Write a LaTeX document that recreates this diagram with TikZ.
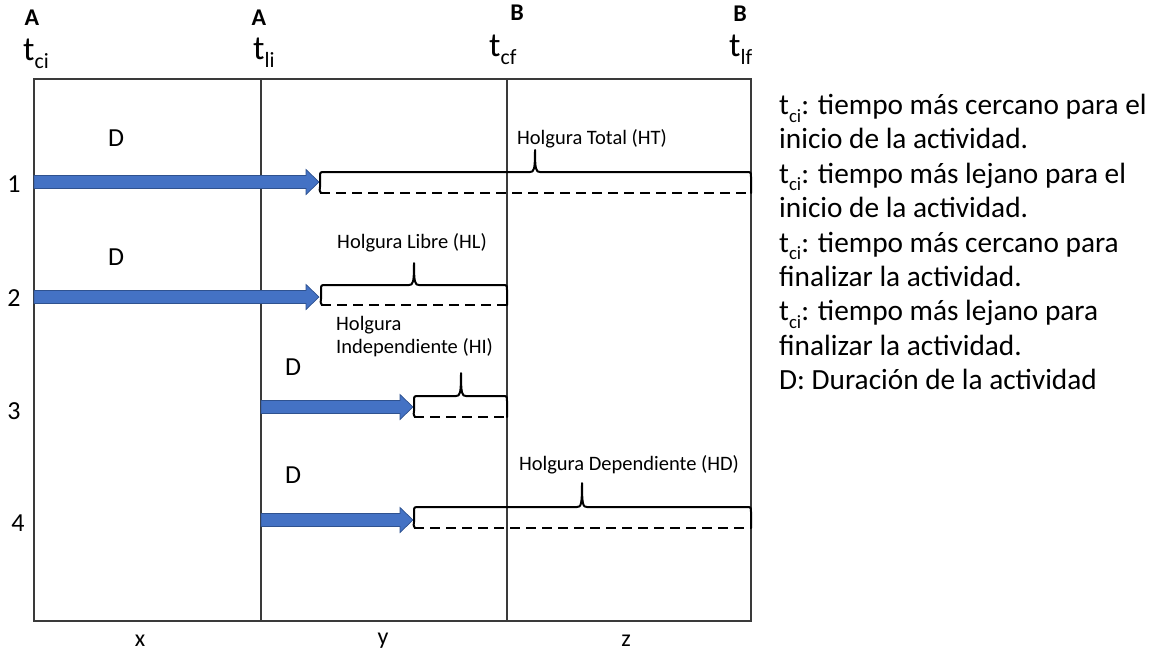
\documentclass[tikz,border=0pt]{standalone}
\usepackage{fontspec}
\usepackage{graphicx}
\setmainfont{Carlito}
\definecolor{arrowfill}{HTML}{4472C4}
\definecolor{arrowedge}{HTML}{2F528F}
\definecolor{gridline}{HTML}{3A3A3A}
\newcommand{\tsb}[1]{t\raisebox{-0.26em}{\scalebox{0.64}{#1}}}
\newcommand{\blockarrow}[4]{% name, x0, x1, y
  \coordinate (#1s) at (#2,#4);
  \coordinate (#1t) at (#3,#4);
  \filldraw[barrow] (#2,#4-6.5) -- (#3-13,#4-6.5) -- (#3-13,#4-12.5) -- (#3,#4)
    -- (#3-13,#4+12.5) -- (#3-13,#4+6.5) -- (#2,#4+6.5) -- cycle;}
\newcommand{\holgbrace}[6]{% x1, x2, xm, top, bot, tip
  \draw[bracestyle] (#1+1,#5) .. controls (#1-0.5,#5-2) .. (#1,#5-6) -- (#1,#4+5)
    .. controls (#1,#4) .. (#1+5,#4) -- (#3-5,#4)
    .. controls (#3-1,#4) and (#3,#4-2) .. (#3,#6)
    .. controls (#3,#4-2) and (#3+1,#4) .. (#3+5,#4) -- (#2-5,#4)
    .. controls (#2,#4) .. (#2,#4+5) -- (#2,#5);
  \draw[dashstyle] (#1,#5) -- (#2,#5);}
\begin{document}
\begin{tikzpicture}[x=1pt,y=-1pt,
  barrow/.style={fill=arrowfill,draw=arrowedge,line width=0.7pt},
  bracestyle/.style={line width=2pt,line join=round,line cap=round},
  dashstyle/.style={line width=2pt,dash pattern=on 10pt off 6pt},
  gridl/.style={draw=gridline,line width=1.1pt},
  hdr/.style={font=\fontsize{24}{27}\selectfont\bfseries,inner sep=0pt},
  tlab/.style={font=\fontsize{34}{38}\selectfont,inner sep=0pt,anchor=base west},
  rowlab/.style={font=\fontsize{26}{30}\selectfont,inner sep=0pt},
  dlab/.style={font=\fontsize{26}{30}\selectfont,inner sep=0pt},
  axlab/.style={font=\fontsize{24}{28}\selectfont,inner sep=0pt},
  hlab/.style={font=\fontsize{20.5}{24}\selectfont,inner sep=0pt},
  leg/.style={font=\fontsize{29.3}{34.4}\selectfont,inner sep=0pt,align=left,anchor=north west}]
\useasboundingbox (0,0) rectangle (1156,657);
% frame
\draw[gridl] (34,79) rectangle (751,621);
\draw[gridl] (261,79) -- (261,621);
\draw[gridl] (507,79) -- (507,621);
% headers
\node[hdr] (hA1) at (32,18) {A};
\node[tlab] (t1) at (23,60) {\tsb{ci}};
\node[hdr] (hA2) at (259,18) {A};
\node[tlab] (t2) at (253,59) {\tsb{li}};
\node[hdr] (hB1) at (517,13) {B};
\node[tlab] (t3) at (489,56) {\tsb{cf}};
\node[hdr] (hB2) at (740,14) {B};
\node[tlab] (t4) at (729,56) {\tsb{lf}};
% row labels
\node[rowlab] (r1) at (14,184) {1};
\node[rowlab] (r2) at (14,298) {2};
\node[rowlab] (r3) at (14,411) {3};
\node[rowlab] (r4) at (18,523) {4};
% D labels
\node[dlab] (d1) at (116,138) {D};
\node[dlab] (d2) at (116,257) {D};
\node[dlab] (d3) at (293,367) {D};
\node[dlab] (d4) at (293,475) {D};
% arrows
\blockarrow{a1}{34}{319}{182}
\blockarrow{a2}{34}{319}{297}
\blockarrow{a3}{261}{413}{407}
\blockarrow{a4}{261}{413}{520}
% braces
\holgbrace{320}{751}{535}{172}{193}{150}
\holgbrace{321}{507}{414}{285}{305}{263}
\holgbrace{414}{507}{461}{396}{417}{373}
\holgbrace{414}{751}{582}{507}{528}{483}
% brace labels
\node[hlab] (h1) at (592,139) {Holgura Total (HT)};
\node[hlab] (h2) at (412,243) {Holgura Libre (HL)};
\node[hlab,align=left,anchor=west] (h3) at (336,337) {Holgura\\[-1pt]Independiente (HI)};
\node[hlab] (h4) at (629,465) {Holgura Dependiente (HD)};
% bottom labels
\node[axlab] (bx) at (140,641) {x};
\node[axlab] (by) at (383,641) {y};
\node[axlab] (bz) at (626,641) {z};
% legend
\node[leg] (legend) at (779,94) {\tsb{ci}: tiempo más cercano para el\\
inicio de la actividad.\\
\tsb{ci}: tiempo más lejano para el\\
inicio de la actividad.\\
\tsb{ci}: tiempo más cercano para\\
finalizar la actividad.\\
\tsb{ci}: tiempo más lejano para\\
finalizar la actividad.\\
D: Duración de la actividad};
\end{tikzpicture}
\end{document}
